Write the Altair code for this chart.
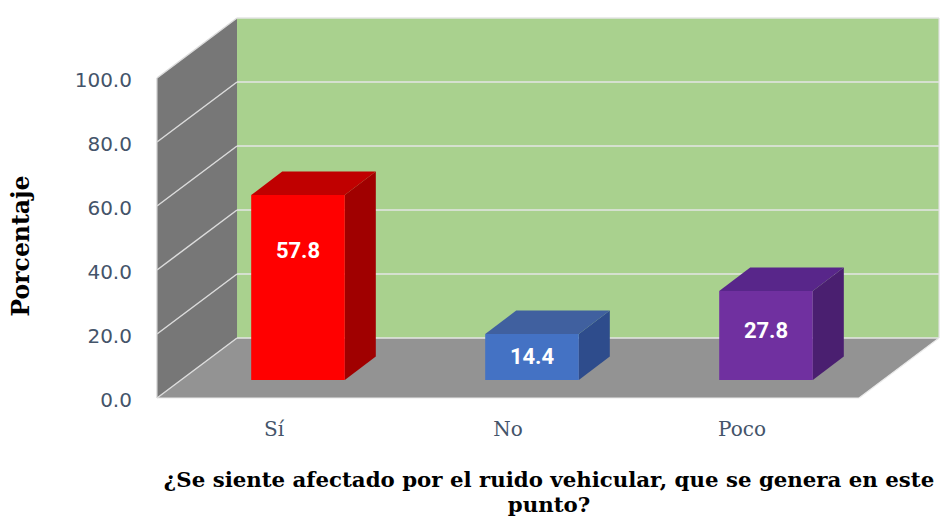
import altair as alt
import pandas as pd

# ---- data ----
categories = ["Sí", "No", "Poco"]
values = [57.8, 14.4, 27.8]
front_colors = ["#ff0000", "#4472c4", "#7030a0"]
top_colors = ["#c00000", "#40609f", "#58268a"]
side_colors = ["#a00000", "#2e4c8c", "#4a1f70"]
label_at = [0.70, 0.5, 0.55]
y_ticks = [0, 20, 40, 60, 80, 100]
title_lines = ["¿Se siente afectado por el ruido vehicular, que se genera en este", "punto?"]
y_title = "Porcentaje"

# ---- geometry (style) ----
W, H = 935, 509
PX_X = 234.0          # pixels per category step
PX_Y = 3.2            # pixels per percent
ORIGIN_X, ORIGIN_Y = 298.0, 398.0   # page px of (u=0, v=0)
DX, DY = 0.342, 18.75               # full depth offset (units)
BZ = 0.3                            # bar front depth fraction
HW = 0.2                            # bar half width
BDX, BDY = 0.1325, 7.34             # bar depth offset
L = -0.5 - BZ * DX
R = len(categories) - 0.5 - BZ * DX
BASE = BZ * DY

xs = alt.Scale(domain=[(8 - ORIGIN_X) / PX_X, (8 + W - ORIGIN_X) / PX_X], nice=False, zero=False)
v1 = (ORIGIN_Y - 8) / PX_Y
ys = alt.Scale(domain=[v1 - H / PX_Y, v1], nice=False, zero=False)


def X(f="x"):
    return alt.X(f"{f}:Q", scale=xs, axis=None)


def Y(f="y"):
    return alt.Y(f"{f}:Q", scale=ys, axis=None)


def px_to_v(py):
    return (ORIGIN_Y - py) / PX_Y


def px_to_u(px):
    return (px - ORIGIN_X) / PX_X


# walls
back = alt.Chart(pd.DataFrame([{"x": L + DX, "x2": R + DX, "y": DY, "y2": DY + 100}])).mark_rect(
    color="#a9d18e").encode(x=X(), x2="x2:Q", y=Y(), y2="y2:Q")

left = alt.Chart(pd.DataFrame([
    {"x": L, "y": 0, "y2": 100},
    {"x": L + DX, "y": DY, "y2": DY + 100},
])).mark_area(color="#777777", orient="vertical").encode(x=X(), y=Y(), y2="y2:Q")

floor = alt.Chart(pd.DataFrame([
    {"y": 0, "x": L, "x2": R},
    {"y": DY, "x": L + DX, "x2": R + DX},
])).mark_area(color="#939393", orient="horizontal").encode(y=Y(), x=X(), x2="x2:Q")

grid_back = alt.Chart(pd.DataFrame([
    {"x": L + DX, "x2": R + DX, "y": DY + t} for t in y_ticks
])).mark_rule(color="#e4e4e4", strokeWidth=1.5).encode(x=X(), x2="x2:Q", y=Y())

grid_left = alt.Chart(pd.DataFrame([
    {"x": L, "x2": L + DX, "y": t, "y2": DY + t} for t in y_ticks
])).mark_rule(color="#dcdcdc", strokeWidth=1.5).encode(x=X(), x2="x2:Q", y=Y(), y2="y2:Q")

edge_left = alt.Chart(pd.DataFrame([{"x": L, "y": 0, "y2": 100}])).mark_rule(
    color="#d0d0d0", strokeWidth=1.2).encode(x=X(), y=Y(), y2="y2:Q")

edge_floor = alt.Chart(pd.DataFrame([
    {"x": L, "x2": R, "y": 0, "y2": 0},
    {"x": R, "x2": R + DX, "y": 0, "y2": DY},
])).mark_rule(color="#eaeaea", strokeWidth=1.2).encode(x=X(), x2="x2:Q", y=Y(), y2="y2:Q")

edge_back_right = alt.Chart(pd.DataFrame([{"x": R + DX, "y": DY, "y2": DY + 100}])).mark_rule(
    color="#e0e0e0", strokeWidth=1.2).encode(x=X(), y=Y(), y2="y2:Q")

# bars
front_rows, top_rows, side_rows, lab_rows, cat_rows = [], [], [], [], []
for i, (c, v) in enumerate(zip(categories, values)):
    front_rows.append({"cat": c, "x": i - HW, "x2": i + HW, "y": BASE, "y2": BASE + v, "col": front_colors[i]})
    top_rows.append({"cat": c, "y": BASE + v, "x": i - HW, "x2": i + HW, "col": top_colors[i]})
    top_rows.append({"cat": c, "y": BASE + v + BDY, "x": i - HW + BDX, "x2": i + HW + BDX, "col": top_colors[i]})
    side_rows.append({"cat": c, "x": i + HW, "y": BASE, "y2": BASE + v, "col": side_colors[i]})
    side_rows.append({"cat": c, "x": i + HW + BDX, "y": BASE + BDY, "y2": BASE + v + BDY, "col": side_colors[i]})
    lab_rows.append({"x": i, "y": BASE + v * label_at[i], "t": f"{v:.1f}"})
    cat_rows.append({"x": i - BZ * DX, "y": -10, "t": c})

front = alt.Chart(pd.DataFrame(front_rows)).mark_rect().encode(
    x=X(), x2="x2:Q", y=Y(), y2="y2:Q", color=alt.Color("col:N", scale=None))
tops = alt.Chart(pd.DataFrame(top_rows)).mark_area(orient="horizontal").encode(
    y=Y(), x=X(), x2="x2:Q", color=alt.Color("col:N", scale=None), detail="cat:N")
sides = alt.Chart(pd.DataFrame(side_rows)).mark_area(orient="vertical").encode(
    x=X(), y=Y(), y2="y2:Q", color=alt.Color("col:N", scale=None), detail="cat:N")

labels = alt.Chart(pd.DataFrame(lab_rows)).mark_text(
    font="Roboto", fontWeight="bold", fontSize=22, color="white", baseline="middle").encode(
    x=X(), y=Y(), text="t:N")

cat_labels = alt.Chart(pd.DataFrame(cat_rows)).mark_text(
    font="DejaVu Serif", fontSize=20, color="#44546a", baseline="middle").encode(
    x=X(), y=Y(), text="t:N")

ytick_labels = alt.Chart(pd.DataFrame([{"x": L - 0.107, "y": t, "t": f"{t:.1f}"} for t in y_ticks])).mark_text(
    font="DejaVu Sans", fontSize=20, color="#44546a", align="right", baseline="middle", dy=3).encode(
    x=X(), y=Y(), text="t:N")

ytitle = alt.Chart(pd.DataFrame([{"x": px_to_u(22), "y": px_to_v(246), "t": y_title}])).mark_text(
    font="DejaVu Serif", fontWeight="bold", fontSize=23.5, color="black", angle=270, baseline="middle").encode(
    x=X(), y=Y(), text="t:N")

title = alt.Chart(pd.DataFrame([
    {"x": px_to_u(549), "y": px_to_v(487), "t": title_lines[0]},
    {"x": px_to_u(549), "y": px_to_v(512), "t": title_lines[1]},
])).mark_text(font="DejaVu Serif", fontWeight="bold", fontSize=21.3, color="black", baseline="alphabetic").encode(
    x=X(), y=Y(), text="t:N")

chart = alt.layer(
    back, left, floor, grid_back, grid_left, edge_left, edge_floor, edge_back_right,
    sides, tops, front, labels, cat_labels, ytick_labels, ytitle, title
).properties(
    width=W, height=H, autosize=alt.AutoSizeParams(type="none"), padding=0
).configure(background="white", view=alt.ViewConfig(stroke=None))

chart.save("out.html", embed_options={"renderer": "svg", "actions": False})
